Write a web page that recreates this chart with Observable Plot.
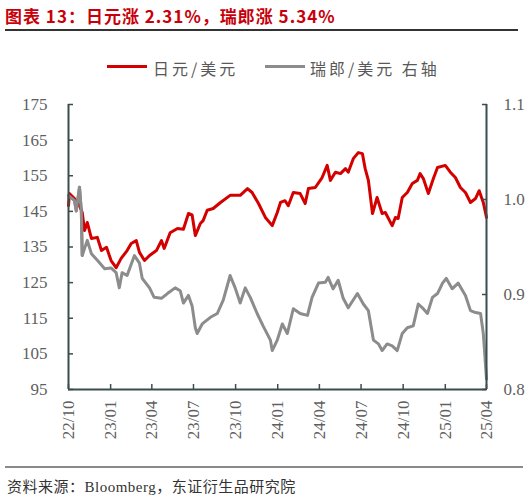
<!DOCTYPE html>
<html>
<head>
<meta charset="utf-8">
<script src="https://cdn.jsdelivr.net/npm/d3@7"></script>
<script src="https://cdn.jsdelivr.net/npm/@observablehq/plot@0.6"></script>
<style>
  html, body { margin: 0; padding: 0; background: #fff; overflow: hidden; }
  #wrap { position: relative; width: 530px; height: 499px; overflow: hidden; }
  #title { position: absolute; left: 5px; top: 3px; font: bold 17px "Noto Sans CJK SC", sans-serif; color: #c8000a; white-space: nowrap; letter-spacing: 1px; }
  #titleRule { position: absolute; left: 5px; top: 29px; width: 513px; height: 1.5px; background: #333; }
  .leg { position: absolute; top: 56px; font: 16px "Noto Sans CJK SC", sans-serif; color: #595959; white-space: nowrap; letter-spacing: 3px; }
  .legLine { position: absolute; top: 65px; height: 3px; width: 40px; }
  #chart { position: absolute; left: 0; top: 90px; }
  #chart svg text { font-family: "Liberation Serif", "DejaVu Serif", serif !important; font-size: 17px !important; }
  #capRule { position: absolute; left: 5px; top: 466px; width: 518px; height: 1.5px; background: #8a8a8a; }
  #caption { position: absolute; left: 7px; top: 475px; font: 15px "Liberation Serif", "Noto Sans CJK SC", serif; color: #333; white-space: nowrap; letter-spacing: 0.5px; }
</style>
</head>
<body>
<div id="wrap">
  <div id="title">图表 13：日元涨 2.31%，瑞郎涨 5.34%</div>
  <div id="titleRule"></div>
  <div class="legLine" style="left:107px;background:#d40000"></div>
  <div class="leg" style="left:153px">日元/美元</div>
  <div class="legLine" style="left:265px;background:#8c8c8c"></div>
  <div class="leg" style="left:310px">瑞郎/美元 右轴</div>
  <div id="chart"></div>
  <div id="capRule"></div>
  <div id="caption">资料来源：Bloomberg，东证衍生品研究院</div>
</div>
<script>
// USD/JPY (left axis)
const jpyDates = [
  "2022-10-01","2022-10-03","2022-10-14","2022-10-25","2022-10-31","2022-11-05","2022-11-11","2022-11-20",
  "2022-12-03","2022-12-12","2022-12-23","2023-01-02","2023-01-13","2023-01-24","2023-02-06","2023-02-15",
  "2023-02-26","2023-03-05","2023-03-16","2023-03-27","2023-04-11","2023-04-22","2023-04-28","2023-05-11",
  "2023-05-27","2023-06-09","2023-06-20","2023-06-28","2023-07-05","2023-07-16","2023-07-22","2023-07-31","2023-08-13",
  "2023-08-29","2023-09-19","2023-10-11","2023-10-27","2023-11-06","2023-11-20","2023-12-05","2023-12-20",
  "2023-12-31","2024-01-07","2024-01-17","2024-01-24","2024-02-04","2024-02-19","2024-03-01","2024-03-08",
  "2024-03-23","2024-04-07","2024-04-18","2024-04-25","2024-05-06","2024-05-17","2024-05-28","2024-06-03",
  "2024-06-14","2024-06-25","2024-07-04","2024-07-10","2024-07-17","2024-07-26","2024-08-05","2024-08-16",
  "2024-08-23","2024-09-07","2024-09-14","2024-09-20","2024-09-29","2024-10-10","2024-10-21","2024-11-01",
  "2024-11-07","2024-11-14","2024-11-25","2024-12-06","2024-12-15","2025-01-01","2025-01-12","2025-01-23",
  "2025-02-03","2025-02-14","2025-02-25","2025-03-08","2025-03-16","2025-03-25","2025-04-01"
];
const jpyValues = [
  146.6,150.0,148.6,146.6,144.7,139.6,141.9,137.4,
  137.7,134.0,134.9,131.2,129.2,131.8,134.0,136.0,
  136.8,133.5,131.2,132.6,134.0,136.8,134.6,139.0,
  140.2,140.0,144.4,144.0,138.2,141.6,142.4,145.3,145.8,
  147.5,149.5,149.5,151.4,150.3,147.2,143.3,141.0,
  144.7,147.5,148.0,146.6,150.3,150.0,147.2,151.4,
  151.7,154.5,157.9,153.7,156.0,155.6,157.0,156.0,
  159.8,161.5,161.2,157.0,153.7,144.4,148.9,144.4,
  144.7,141.0,143.3,143.0,148.9,150.3,152.8,153.7,
  155.6,154.2,150.0,154.2,157.3,157.9,156.0,154.5,
  151.7,150.3,147.5,148.6,150.8,147.5,143.3
];
// USD/CHF (right axis)
const chfDates = [
  "2022-10-01","2022-10-14","2022-10-18","2022-10-25","2022-10-29","2022-10-31","2022-11-11","2022-11-20",
  "2022-12-03","2022-12-19","2023-01-02","2023-01-13","2023-01-20","2023-01-26","2023-02-06","2023-02-22",
  "2023-03-05","2023-03-11","2023-03-27","2023-04-06","2023-04-22","2023-05-05","2023-05-22","2023-06-02",
  "2023-06-09","2023-06-20","2023-06-28","2023-07-05","2023-07-09","2023-07-20","2023-08-07","2023-08-22",
  "2023-09-04","2023-09-19","2023-09-30","2023-10-11","2023-10-22","2023-11-02","2023-11-17","2023-11-30",
  "2023-12-16","2023-12-20","2023-12-31","2024-01-11","2024-01-22","2024-02-04","2024-02-19","2024-03-06",
  "2024-03-16","2024-03-30","2024-04-14","2024-04-20","2024-05-01","2024-05-12","2024-05-23","2024-06-03",
  "2024-06-23","2024-07-06","2024-07-17","2024-07-28","2024-08-08","2024-08-16","2024-08-27","2024-09-07",
  "2024-09-18","2024-09-29","2024-10-10","2024-10-23","2024-11-03","2024-11-12","2024-11-23","2024-12-04",
  "2024-12-15","2024-12-26","2025-01-03","2025-01-16","2025-01-29","2025-02-14","2025-02-25","2025-03-08",
  "2025-03-19","2025-03-25","2025-04-01"
];
const chfValues = [
  1.004,0.999,0.988,1.013,0.988,0.941,0.957,0.943,
  0.936,0.927,0.928,0.923,0.907,0.923,0.920,0.941,
  0.933,0.917,0.907,0.897,0.896,0.901,0.907,0.904,
  0.891,0.899,0.888,0.865,0.859,0.869,0.876,0.880,
  0.894,0.920,0.907,0.891,0.907,0.897,0.880,0.867,
  0.852,0.841,0.852,0.869,0.859,0.885,0.880,0.878,
  0.897,0.912,0.913,0.918,0.906,0.915,0.896,0.886,
  0.901,0.890,0.883,0.852,0.848,0.841,0.848,0.846,
  0.841,0.859,0.865,0.867,0.890,0.886,0.880,0.897,
  0.901,0.912,0.917,0.906,0.912,0.899,0.883,0.881,
  0.880,0.859,0.811
];
const xTickDates = ["2022-10-01","2023-01-01","2023-04-01","2023-07-01","2023-10-01","2024-01-01","2024-04-01","2024-07-01","2024-10-01","2025-01-01","2025-04-01"];
const xTickLabels = ["22/10","23/01","23/04","23/07","23/10","24/01","24/04","24/07","24/10","25/01","25/04"];
const leftTicks = [95,105,115,125,135,145,155,165,175];
const rightTicks = [0.8,0.9,1.0,1.1];
const leftDomain = [95,175];
const rightDomain = [0.8,1.1];

// map right-axis values onto the left scale (dual axis)
const toLeft = v => leftDomain[0] + (v - rightDomain[0]) * (leftDomain[1]-leftDomain[0]) / (rightDomain[1]-rightDomain[0]);
const fromLeft = v => rightDomain[0] + (v - leftDomain[0]) * (rightDomain[1]-rightDomain[0]) / (leftDomain[1]-leftDomain[0]);

const jpy = jpyDates.map((d,i) => ({date: new Date(d), v: jpyValues[i]}));
const chf = chfDates.map((d,i) => ({date: new Date(d), v: chfValues[i]}));
const xTicks = xTickDates.map(d => new Date(d));
const labelOf = d => xTickLabels[xTicks.findIndex(t => +t === +d)];

const axisColor = "#3b4d4d";
const textColor = "#5f5f5f";

const chart = Plot.plot({
  width: 530,
  height: 370,
  marginTop: 14,
  marginBottom: 71,
  marginLeft: 68,
  marginRight: 44,
  x: {type: "utc", domain: [xTicks[0], xTicks[xTicks.length-1]], label: null},
  y: {domain: leftDomain, label: null},
  style: {fontFamily: "Liberation Serif", fontSize: "17px", color: textColor, background: "transparent", overflow: "visible"},
  marks: [
    Plot.line(chf, {x: "date", y: d => toLeft(d.v), stroke: "#8c8c8c", strokeWidth: 3, strokeLinejoin: "round"}),
    Plot.line(jpy, {x: "date", y: "v", stroke: "#d40000", strokeWidth: 3, strokeLinejoin: "round"}),
    Plot.line(chf, {x: "date", y: d => toLeft(d.v), stroke: "#8c8c8c", strokeWidth: 3, strokeLinejoin: "round", filter: d => d.date < new Date("2022-11-01")}),
    Plot.ruleY([leftDomain[0]], {stroke: axisColor, strokeWidth: 2}),
    Plot.ruleX([xTicks[0], xTicks[xTicks.length-1]], {stroke: axisColor, strokeWidth: 2}),
    Plot.axisX(xTicks, {tickSize: -5, tickFormat: () => "", stroke: axisColor, strokeWidth: 1.5, label: null}),
    Plot.axisX(xTicks, {tickSize: 0, tickPadding: 11, tickRotate: -90, tickFormat: labelOf, fill: textColor, label: null}),
    Plot.axisY(leftTicks, {tickSize: -5, tickFormat: () => "", stroke: axisColor, strokeWidth: 1.5, label: null}),
    Plot.axisY(leftTicks, {tickSize: 0, tickPadding: 21, fill: textColor, label: null}),
    Plot.axisY(rightTicks.map(toLeft), {anchor: "right", tickSize: -5, tickFormat: () => "", stroke: axisColor, strokeWidth: 1.5, label: null}),
    Plot.axisY(rightTicks.map(toLeft), {anchor: "right", tickSize: 0, tickPadding: 17, tickFormat: d => fromLeft(d).toFixed(1), fill: textColor, label: null})
  ]
});
document.getElementById("chart").appendChild(chart);
</script>
</body>
</html>
